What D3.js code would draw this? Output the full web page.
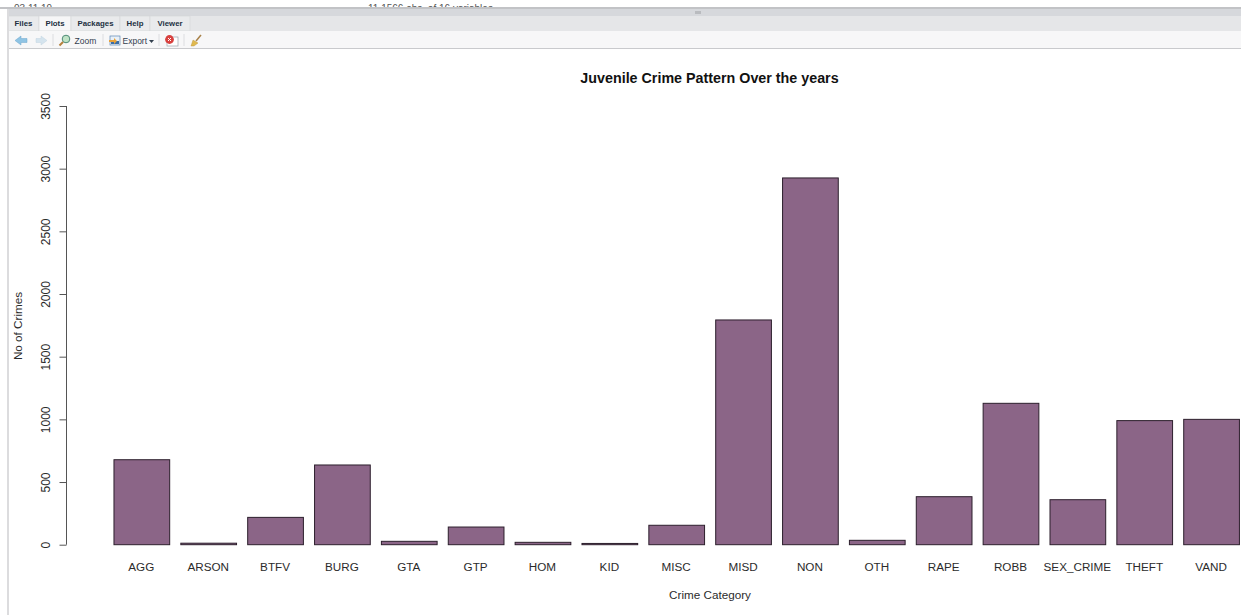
<!DOCTYPE html>
<html>
<head>
<meta charset="utf-8">
<script src="https://d3js.org/d3.v7.min.js"></script>
<style>
  html, body { margin: 0; padding: 0; background: #fff; overflow: hidden; }
  text { font-family: "Liberation Sans", Arial, sans-serif; }
</style>
</head>
<body>
<div id="chart"></div>
<script>
// data
const categories = ["AGG", "ARSON", "BTFV", "BURG", "GTA", "GTP", "HOM", "KID", "MISC", "MISD", "NON", "OTH", "RAPE", "ROBB", "SEX_CRIME", "THEFT", "VAND"];
const crimeCounts = [678, 12, 218, 636, 27, 141, 19, 10, 155, 1793, 2926, 35, 383, 1128, 359, 990, 1000];
const yTicks = [0, 500, 1000, 1500, 2000, 2500, 3000, 3500];
const tabNames = ["Files", "Plots", "Packages", "Help", "Viewer"];

const width = 1241;
const height = 615;
const barColor = "#8b6587";

const svg = d3.select("#chart")
    .append("svg")
    .attr("width", width)
    .attr("height", height);

// R barplot spacing: bar width 1, gap 0.2
const xScale = d3.scaleBand()
    .domain(categories)
    .range([108.4, 1245])
    .paddingInner(1 / 6)
    .paddingOuter(1 / 12);

const yScale = d3.scaleLinear()
    .domain([0, 3500])
    .range([544.7, 106]);

/* ---------- RStudio pane behind the plot ---------- */
svg.append("rect").attr("x", 0).attr("y", 0).attr("width", width).attr("height", 8).attr("fill", "#fff");
// console text cut off by the pane edge
svg.append("text").attr("x", 14).attr("y", 11.5).attr("font-size", 10).attr("fill", "#555").text("03 11 19");
svg.append("text").attr("x", 368).attr("y", 11.5).attr("font-size", 10).attr("fill", "#555").text("11.1566 obs. of 16 variables");
svg.append("rect").attr("x", 0).attr("y", 7).attr("width", width).attr("height", 2).attr("fill", "#c2c3c6");
svg.append("rect").attr("x", 8).attr("y", 9).attr("width", width - 8).attr("height", 7).attr("fill", "#d6d8dc");
svg.append("rect").attr("x", 695).attr("y", 11).attr("width", 6).attr("height", 3).attr("fill", "#b9bbbf");
svg.append("rect").attr("x", 8).attr("y", 16).attr("width", width - 8).attr("height", 15).attr("fill", "#e5e6e8");

const tabEdges = [8, 39, 71, 120, 150, 190];
const tabCenters = [23.5, 55, 95.5, 135, 170];
tabNames.forEach((name, i) => {
    svg.append("rect")
        .attr("x", tabEdges[i]).attr("y", 16)
        .attr("width", tabEdges[i + 1] - tabEdges[i]).attr("height", 15)
        .attr("fill", name === "Plots" ? "#f6f6f7" : "#e9eaec")
        .attr("stroke", "#d4d5d8").attr("stroke-width", 0.6);
    svg.append("text")
        .attr("x", tabCenters[i]).attr("y", 26)
        .attr("text-anchor", "middle")
        .attr("font-size", 7.8).attr("font-weight", "bold").attr("fill", "#22303f")
        .text(name);
});

svg.append("rect").attr("x", 8).attr("y", 31).attr("width", width - 8).attr("height", 17).attr("fill", "#f7f7f8");
svg.append("line").attr("x1", 8).attr("x2", width).attr("y1", 48.5).attr("y2", 48.5).attr("stroke", "#c9cacd");
svg.append("rect").attr("x", 7).attr("y", 9).attr("width", 2).attr("height", height - 9).attr("fill", "#dcdcde");

// toolbar buttons
svg.append("path").attr("d", "M15 40.5 L21 36 L21 38.5 L27 38.5 L27 42.5 L21 42.5 L21 45 Z").attr("fill", "#8fc4e4").attr("stroke", "#6ea6cc").attr("stroke-width", 0.5);
svg.append("path").attr("d", "M47 40.5 L41 36 L41 38.5 L36 38.5 L36 42.5 L41 42.5 L41 45 Z").attr("fill", "#d5e4ee").attr("stroke", "#c3d4e0").attr("stroke-width", 0.5);

[53, 103, 159, 184].forEach(x => {
    svg.append("line").attr("x1", x).attr("x2", x).attr("y1", 34).attr("y2", 46).attr("stroke", "#dcdde0");
});

svg.append("circle").attr("cx", 66).attr("cy", 39).attr("r", 3.8).attr("fill", "#bfe3c6").attr("stroke", "#4d8a76").attr("stroke-width", 1);
svg.append("line").attr("x1", 63).attr("y1", 42).attr("x2", 59.5).attr("y2", 45.5).attr("stroke", "#b5803c").attr("stroke-width", 2);
svg.append("text").attr("x", 74.5).attr("y", 44).attr("font-size", 8.5).attr("fill", "#33404e").text("Zoom");

svg.append("rect").attr("x", 110).attr("y", 36).attr("width", 10).attr("height", 9).attr("fill", "#e8f0f8").attr("stroke", "#5c86b5").attr("stroke-width", 0.7);
svg.append("rect").attr("x", 111).attr("y", 41).attr("width", 8).attr("height", 3).attr("fill", "#3a6ea8");
svg.append("path").attr("d", "M109 40 L114 40 L114 38 L117 41 L114 44 L114 42 L109 42 Z").attr("fill", "#e8a23a");
svg.append("text").attr("x", 122.5).attr("y", 44).attr("font-size", 8.5).attr("fill", "#33404e").text("Export");
svg.append("path").attr("d", "M149 40 L154 40 L151.5 43 Z").attr("fill", "#33404e");

svg.append("rect").attr("x", 167).attr("y", 37).attr("width", 11).attr("height", 9).attr("fill", "#fff").attr("stroke", "#9aa3ad").attr("stroke-width", 0.7);
svg.append("circle").attr("cx", 169.5).attr("cy", 39.5).attr("r", 4.4).attr("fill", "#d8413f");
svg.append("path").attr("d", "M168 38 L171 41 M171 38 L168 41").attr("stroke", "#fff").attr("stroke-width", 1);

svg.append("line").attr("x1", 201).attr("y1", 35).attr("x2", 196).attr("y2", 41).attr("stroke", "#a9824a").attr("stroke-width", 1.5);
svg.append("path").attr("d", "M193 40 L198 43 L194 46 L191 46 Z").attr("fill", "#e0b94e").attr("stroke", "#b7913a").attr("stroke-width", 0.4);

/* ---------- the plot ---------- */
svg.append("g")
    .selectAll("rect")
    .data(categories)
    .enter()
    .append("rect")
    .attr("x", d => xScale(d))
    .attr("y", (d, i) => yScale(crimeCounts[i]))
    .attr("width", xScale.bandwidth())
    .attr("height", (d, i) => yScale(0) - yScale(crimeCounts[i]))
    .attr("fill", barColor)
    .attr("stroke", "#2c1f2c")
    .attr("stroke-width", 1);

// category labels sit where barplot names.arg puts them, no axis line
svg.append("g")
    .selectAll("text")
    .data(categories)
    .enter()
    .append("text")
    .attr("x", d => xScale(d) + xScale.bandwidth() / 2 - 0.5)
    .attr("y", 570.5)
    .attr("text-anchor", "middle")
    .attr("font-size", 11.7)
    .attr("fill", "#2b2b2b")
    .text(d => d);

const yAxis = d3.axisLeft(yScale)
    .tickValues(yTicks)
    .tickSize(7)
    .tickPadding(9)
    .tickFormat(d3.format("d"));

const yAxisG = svg.append("g")
    .attr("id", "y-axis")
    .attr("transform", "translate(66.5, 0)")
    .call(yAxis);

yAxisG.select(".domain").attr("stroke", "#555").attr("d", `M0,${yScale(0)}V${yScale(3500)}`);
yAxisG.selectAll(".tick line").attr("stroke", "#555");
yAxisG.selectAll(".tick text")
    .attr("x", 0)
    .attr("y", 0)
    .attr("dy", null)
    .attr("transform", "translate(-17, 0) rotate(-90)")
    .attr("text-anchor", "middle")
    .attr("font-family", "Liberation Sans")
    .attr("font-size", 12)
    .attr("fill", "#2b2b2b");

svg.append("text")
    .attr("x", 709.5)
    .attr("y", 83)
    .attr("text-anchor", "middle")
    .attr("font-size", 14.3)
    .attr("font-weight", "bold")
    .attr("fill", "#111")
    .text("Juvenile Crime Pattern Over the years");

svg.append("text")
    .attr("x", 710)
    .attr("y", 599)
    .attr("text-anchor", "middle")
    .attr("font-size", 11.7)
    .attr("fill", "#2b2b2b")
    .text("Crime Category");

svg.append("text")
    .attr("transform", "translate(22, 326) rotate(-90)")
    .attr("text-anchor", "middle")
    .attr("font-size", 11.7)
    .attr("fill", "#2b2b2b")
    .text("No of Crimes");
</script>
</body>
</html>
